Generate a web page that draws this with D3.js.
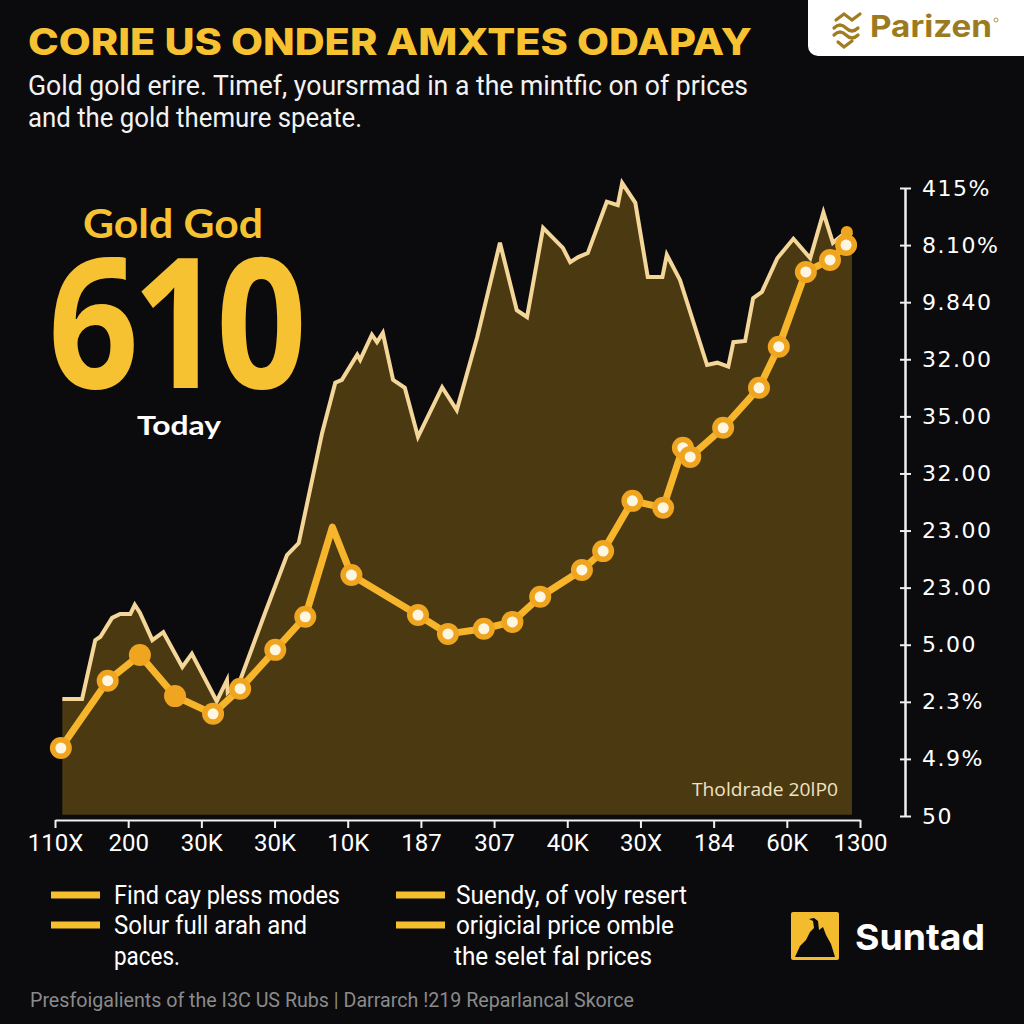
<!DOCTYPE html>
<html>
<head>
<meta charset="utf-8">
<script src="https://cdn.jsdelivr.net/npm/d3@7/dist/d3.min.js"></script>
<style>
html,body{margin:0;padding:0;background:#0b0b0d;}
svg{display:block;}
</style>
</head>
<body>
<svg id="chart" width="1024" height="1024"></svg>
<script>
// ---------- data ----------
const xLabels = ["110X","200","30K","30K","10K","187","307","40K","30X","184","60K","1300"];
const yLabels = ["415%","8.10%","9.840","32.00","35.00","32.00","23.00","23.00","5.00","2.3%","4.9%","50"]; // top -> bottom

// upper (cream) series: x position in axis-tick units, value in chart units
const priceX = [0.10,0.37,0.55,0.62,0.78,0.89,1.03,1.09,1.16,1.33,1.48,1.74,1.87,2.21,2.35,2.36,2.53,2.88,3.17,3.33,
  3.65,3.83,3.92,4.13,4.17,4.33,4.40,4.48,4.62,4.78,4.96,5.29,5.49,5.77,6.08,6.31,6.45,6.67,6.94,7.04,
  7.15,7.28,7.54,7.69,7.75,7.93,8.10,8.30,8.36,8.54,8.91,9.05,9.20,9.27,9.43,9.54,9.66,9.87,10.09,10.32,
  10.50,10.63,10.81,10.89];
const priceY = [20.5,20.5,30.8,31.4,34.7,35.4,35.4,37.0,35.6,30.8,32.2,26.1,28.4,20.1,23.8,21.7,23.8,35.9,45.7,47.8,
  67.1,75.9,76.4,80.8,79.9,84.3,83.0,84.6,76.4,75.0,66.4,75.1,71.1,83.9,100.4,88.6,87.4,103.0,99.5,97.0,
  97.9,98.6,107.6,107.0,110.9,107.4,94.4,94.4,98.3,93.9,79.0,79.4,78.7,83.0,83.2,90.7,91.8,97.7,101.1,97.7,
  105.7,100.4,102.3,101.7];

// lower (orange) series with markers
const trendX = [0.08,0.72,1.16,1.64,2.16,2.53,3.01,3.42,3.79,4.05,4.96,5.37,5.86,6.25,6.63,7.20,7.49,7.89,8.31,8.58,
  8.68,9.13,9.62,9.89,10.26,10.59,10.81,10.82];
const trendY = [11.9,23.7,28.2,21.0,17.9,22.3,29.1,34.9,50.6,42.2,35.2,31.9,32.8,34.0,38.4,43.1,46.4,55.2,54.0,64.5,
  62.9,68.0,75.0,82.2,95.3,97.4,100.0,102.3];
const trendMarker = ["w","w","s","s","w","w","w","w","n","w","w","w","w","w","w","w","w","w","w","w",
  "w","w","w","w","w","w","w","d"];

const legendItems = [
  ["Find cay pless modes"],
  ["Solur full arah and","paces."],
  ["Suendy, of voly resert"],
  ["origicial price omble","the selet fal prices"]
];

// ---------- drawing ----------
const svg = d3.select("#chart");
const W = 1024, H = 1024;
svg.append("rect").attr("width",W).attr("height",H).attr("fill","#0b0b0d");

const GOLD = "#f7c232";
const x = d3.scaleLinear().domain([0,11]).range([55,860]);
const y = d3.scaleLinear().domain([0,110]).range([816,188]);

function fitText(sel, w){ sel.attr("textLength", w).attr("lengthAdjust","spacingAndGlyphs"); return sel; }

// title
fitText(svg.append("text").attr("x",28).attr("y",55)
  .attr("font-family","Inter, 'Open Sans', sans-serif").attr("font-weight",800).attr("font-size",37)
  .attr("fill",GOLD).text("CORIE US ONDER AMXTES ODAPAY"), 724);
fitText(svg.append("text").attr("x",28).attr("y",95)
  .attr("font-family","'Liberation Sans Narrow', 'Roboto', sans-serif").attr("font-size",27)
  .attr("fill","#f2f2f2").text("Gold gold erire. Timef, yoursrmad in a the mintfic on of prices"), 720);
fitText(svg.append("text").attr("x",28).attr("y",127)
  .attr("font-family","'Liberation Sans Narrow', 'Roboto', sans-serif").attr("font-size",27)
  .attr("fill","#f2f2f2").text("and the gold themure speate."), 334);

// Parizen logo
svg.append("rect").attr("x",808).attr("y",-12).attr("width",240).attr("height",68).attr("rx",10).attr("fill","#ffffff");
const pz = svg.append("g").attr("fill","none").attr("stroke","#a07d20").attr("stroke-width",3.2).attr("stroke-linecap","round");
pz.append("path").attr("d","M836,20 l8,-6 l8,6 l8,-6");
pz.append("path").attr("d","M834,28 q6,-6 12,0 t12,0");
pz.append("path").attr("d","M834,35 q6,-6 12,0 t12,0");
pz.append("path").attr("d","M838,42 l6,5 l8,-6");
fitText(svg.append("text").attr("x",870).attr("y",37)
  .attr("font-family","Inter, 'Open Sans', sans-serif").attr("font-weight",700).attr("font-size",30)
  .attr("fill","#9c7a1f").text("Parizen"), 122);
svg.append("circle").attr("cx",996).attr("cy",20).attr("r",2).attr("fill","none").attr("stroke","#9c7a1f").attr("stroke-width",0.8);

// area
const area = d3.area().x((d,i)=>x(priceX[i])).y0(y(0.2)).y1((d,i)=>y(priceY[i]));
svg.append("path").datum(priceY).attr("d",area).attr("fill","#4b3912");
const line = d3.line().x((d,i)=>x(priceX[i])).y((d,i)=>y(priceY[i]));
svg.append("path").datum(priceY).attr("d",line).attr("fill","none")
  .attr("stroke","#f4d699").attr("stroke-width",4).attr("stroke-linejoin","miter");

// big numbers
fitText(svg.append("text").attr("x",83).attr("y",238)
  .attr("font-family","Lato, 'Open Sans', sans-serif").attr("font-weight",700).attr("font-size",40)
  .attr("fill",GOLD).text("Gold God"), 180);
fitText(svg.append("text").attr("x",48).attr("y",388)
  .attr("font-family","'Open Sans', Lato, sans-serif").attr("font-weight",700).attr("font-size",182)
  .attr("fill",GOLD).attr("letter-spacing",-8).text("610"), 252);
fitText(svg.append("text").attr("x",137).attr("y",435)
  .attr("font-family","Lato, 'Open Sans', sans-serif").attr("font-weight",700).attr("font-size",27)
  .attr("fill","#ffffff").text("Today"), 84);

// orange trend line
const tline = d3.line().x((d,i)=>x(trendX[i])).y((d,i)=>y(trendY[i]));
svg.append("path").datum(trendY).attr("d",tline).attr("fill","none")
  .attr("stroke","#f6b52a").attr("stroke-width",7).attr("stroke-linejoin","round");
const mk = svg.append("g");
trendY.forEach((v,i)=>{
  const k = trendMarker[i];
  if(k==="n") return;
  const cx = x(trendX[i]), cy = y(v);
  mk.append("circle").attr("cx",cx).attr("cy",cy).attr("r", k==="d"?6:11).attr("fill","#f0a520");
  if(k==="w") mk.append("circle").attr("cx",cx).attr("cy",cy).attr("r",5.5).attr("fill","#fff6e2");
});

// annotation
fitText(svg.append("text").attr("x",692).attr("y",796)
  .attr("font-family","'Open Sans', sans-serif").attr("font-size",18)
  .attr("fill","#f1e2c0").text("Tholdrade 20lP0"), 146);

// x axis
const xAxis = d3.axisBottom(x).tickValues(d3.range(12)).tickFormat(i=>xLabels[i]).tickSize(8).tickSizeOuter(0).tickPadding(6);
const gx = svg.append("g").attr("transform","translate(0,820)").call(xAxis);
gx.select(".domain").attr("stroke","#f0f0f0").attr("stroke-width",2);
gx.selectAll(".tick line").attr("stroke","#f0f0f0").attr("stroke-width",2);
gx.selectAll(".tick text").attr("fill","#ffffff")
  .attr("font-family","'Liberation Sans Narrow', 'Roboto', sans-serif").attr("font-size",24);

// y axis (right)
const yAxis = d3.axisRight(y).tickValues(d3.range(0,111,10)).tickFormat(v=>yLabels[11-Math.round(v/10)])
  .tickSize(6).tickSizeOuter(0).tickPadding(11);
const gy = svg.append("g").attr("transform","translate(905,0)").call(yAxis);
gy.select(".domain").attr("stroke","#f0f0f0").attr("stroke-width",2.5);
gy.selectAll(".tick line").attr("x1",-5).attr("stroke","#f0f0f0").attr("stroke-width",2);
gy.selectAll(".tick text").attr("fill","#ffffff")
  .attr("font-family","'DejaVu Sans', sans-serif").attr("font-size",22).attr("letter-spacing",1.5);

// legend
const legPos = [[51,895,114],[51,925,114],[396,895,456],[396,925,456]];
const legW = [[226],[193,66],[231],[218,198]];
legendItems.forEach((lines,i)=>{
  const [sx,sy,tx] = legPos[i];
  svg.append("rect").attr("x",sx).attr("y",sy-3.5).attr("width",49).attr("height",7).attr("fill","#f5bf2e");
  lines.forEach((t,j)=>{
    fitText(svg.append("text").attr("x",tx - (j>0 && i===3 ? 2 : 0)).attr("y",sy+9+j*31)
      .attr("font-family","'Liberation Sans Narrow', 'Roboto', sans-serif").attr("font-size",25)
      .attr("fill","#ffffff").text(t), legW[i][j]);
  });
});

// Suntad logo
svg.append("rect").attr("x",791).attr("y",912).attr("width",48).attr("height",48).attr("rx",2).attr("fill","#f2bc2e");
svg.append("path").attr("d","M795,957 L800,946 L806,940 L810,932 L814,928 L813,921 L809,919 L814,918 L818,921 L819,930 L823,927 L826,935 L831,944 L835,957 Z").attr("fill","#0b0b0d");
fitText(svg.append("text").attr("x",855).attr("y",950)
  .attr("font-family","Inter, 'Open Sans', sans-serif").attr("font-weight",700).attr("font-size",36)
  .attr("fill","#ffffff").text("Suntad"), 130);

// footer
fitText(svg.append("text").attr("x",30).attr("y",1007)
  .attr("font-family","'Liberation Sans Narrow', 'Roboto', sans-serif").attr("font-size",20)
  .attr("fill","#8a8a8a").text("Presfoigalients of the I3C US Rubs | Darrarch !219 Reparlancal Skorce"), 604);
</script>
</body>
</html>
